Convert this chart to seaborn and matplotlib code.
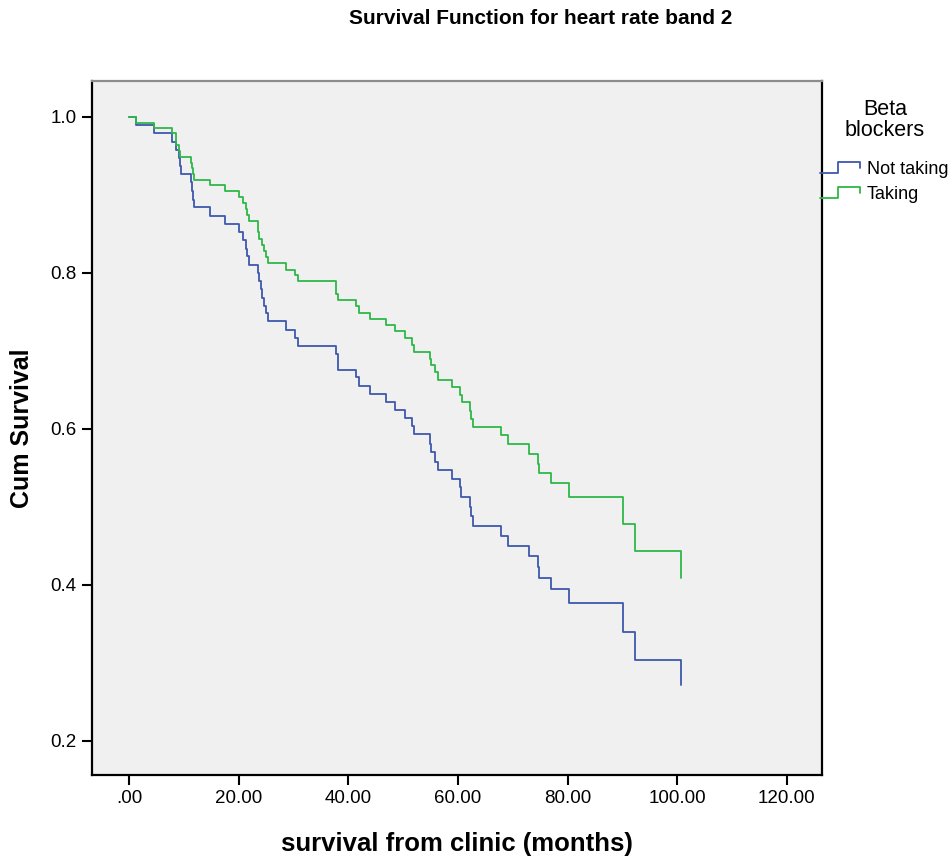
import pandas as pd
import seaborn as sns
import matplotlib.pyplot as plt
from matplotlib.lines import Line2D
from matplotlib.legend_handler import HandlerBase

# Kaplan-Meier step values
taking_t = [0, 1.2, 4.56, 7.8, 8.5, 9.0, 9.2, 11.2, 11.4, 11.6, 11.9, 14.7, 17.5, 19.95,
            20.7, 21.35, 21.5, 21.8, 23.5, 23.7, 24.3, 24.6, 24.9, 25.3, 28.6, 30.3, 30.8,
            37.8, 38.0, 41.3, 42.0, 44.0, 46.9, 48.5, 50.4, 51.5, 52.0, 54.9, 55.1, 55.8,
            56.4, 58.8, 60.4, 60.7, 62.1, 62.4, 62.7, 67.9, 69.1, 72.9, 74.6, 74.8, 77.0,
            80.2, 90.1, 92.3, 100.7]
taking_s = [1.0, 0.992, 0.986, 0.979, 0.964, 0.956, 0.949, 0.941, 0.935, 0.927, 0.919, 0.912,
            0.905, 0.897, 0.889, 0.882, 0.874, 0.867, 0.852, 0.844, 0.836, 0.828, 0.820, 0.812,
            0.804, 0.797, 0.790, 0.773, 0.765, 0.757, 0.749, 0.741, 0.733, 0.725, 0.716, 0.708,
            0.699, 0.689, 0.682, 0.673, 0.663, 0.653, 0.643, 0.634, 0.623, 0.612, 0.602, 0.592,
            0.580, 0.568, 0.555, 0.543, 0.530, 0.513, 0.478, 0.443, 0.409]

not_taking_t = [0, 1.2, 4.56, 7.8, 8.5, 9.0, 9.2, 9.4, 11.2, 11.4, 11.6, 11.9, 14.7, 17.5,
                19.95, 20.7, 21.35, 21.5, 21.8, 23.5, 23.7, 24.0, 24.3, 24.6, 24.9, 25.3, 28.6,
                30.3, 30.8, 37.8, 38.0, 41.3, 42.0, 44.0, 46.9, 48.5, 50.4, 51.5, 52.0, 54.9,
                55.1, 55.8, 56.4, 58.8, 60.3, 60.6, 62.1, 62.4, 62.7, 67.9, 69.1, 72.9, 74.6,
                74.8, 77.0, 80.2, 90.1, 92.3, 100.7]
not_taking_s = [1.0, 0.990, 0.979, 0.968, 0.957, 0.947, 0.937, 0.927, 0.916, 0.905, 0.894,
                0.884, 0.873, 0.863, 0.852, 0.842, 0.831, 0.821, 0.810, 0.800, 0.790, 0.779,
                0.768, 0.758, 0.748, 0.738, 0.727, 0.717, 0.706, 0.696, 0.676, 0.666, 0.655,
                0.644, 0.634, 0.624, 0.614, 0.603, 0.593, 0.581, 0.570, 0.558, 0.547, 0.536,
                0.525, 0.513, 0.500, 0.488, 0.475, 0.463, 0.450, 0.437, 0.423, 0.409, 0.395,
                0.376, 0.340, 0.304, 0.271]

groups = ["Not taking", "Taking"]
colors = {"Not taking": "#3E58AC", "Taking": "#2EB848"}
x_ticks = [0, 20, 40, 60, 80, 100, 120]
x_tick_labels = [".00", "20.00", "40.00", "60.00", "80.00", "100.00", "120.00"]
y_ticks = [0.2, 0.4, 0.6, 0.8, 1.0]
y_tick_labels = ["0.2", "0.4", "0.6", "0.8", "1.0"]


class StepHandler(HandlerBase):
    # legend key drawn as a little step, like the SPSS one
    def create_artists(self, legend, orig_handle, xdescent, ydescent, width, height, fontsize, trans):
        x0 = -xdescent
        xs = [x0, x0 + 0.45 * width, x0 + 0.45 * width, x0 + width, x0 + width]
        lo, hi = -ydescent + 0.05 * height, -ydescent + 0.95 * height
        ys = [lo, lo, hi, hi, hi - 0.45 * height]
        line = Line2D(xs, ys, color=orig_handle.get_color(), lw=1.3, transform=trans)
        return [line]


df = pd.concat([
    pd.DataFrame({"time": not_taking_t, "surv": not_taking_s, "group": "Not taking"}),
    pd.DataFrame({"time": taking_t, "surv": taking_s, "group": "Taking"}),
])

sns.set_style("white")
plt.rcParams["font.family"] = ["Liberation Sans", "DejaVu Sans"]
plt.rcParams["text.color"] = "black"
plt.rcParams["axes.labelcolor"] = "black"
plt.rcParams["xtick.color"] = "black"
plt.rcParams["ytick.color"] = "black"

fig = plt.figure(figsize=(9.53, 8.59), dpi=100)
ax = fig.add_axes([92 / 953, 1 - 775 / 859, (822 - 92) / 953, (775 - 81) / 859])
ax.set_facecolor("#F0F0F0")

sns.lineplot(data=df, x="time", y="surv", hue="group", hue_order=groups, palette=colors,
             estimator=None, drawstyle="steps-post", lw=1.3, legend=False, ax=ax)

ax.set_xlim(-6.8, 126.4)
ax.set_ylim(0.156, 1.046)
ax.set_xticks(x_ticks)
ax.set_xticklabels(x_tick_labels, fontsize=13.5)
ax.set_yticks(y_ticks)
ax.set_yticklabels(y_tick_labels, fontsize=13.5)
ax.tick_params(axis="both", direction="out", length=7, width=1.5, color="black", pad=4,
               bottom=True, left=True)
for side in ["left", "bottom", "right"]:
    ax.spines[side].set_color("black")
    ax.spines[side].set_linewidth(1.6)
ax.spines["top"].set_color("#8C8C8C")
ax.spines["top"].set_linewidth(1.6)

ax.set_xlabel("survival from clinic (months)", fontsize=18.5, fontweight="bold", labelpad=18)
ax.set_ylabel("")
fig.text(22 / 953, 1 - 428 / 859, "Cum Survival", rotation=90, ha="center", va="center",
         fontsize=18, fontweight="bold")
fig.text(541 / 953, 1 - 18 / 859, "Survival Function for heart rate band 2", ha="center",
         va="center", fontsize=15, fontweight="bold")

# legend title as its own text so the gap above the entries matches
fig.text(885 / 953, 1 - 120 / 859, "Beta\nblockers", ha="center", va="center",
         multialignment="center", linespacing=1.0, fontsize=15.5)
handles = [Line2D([], [], color=colors[g]) for g in groups]
leg = ax.legend(handles, groups, loc="upper left", bbox_to_anchor=(820 / 953, 1 - 161 / 859),
                bbox_transform=fig.transFigure, frameon=False, borderpad=0, borderaxespad=0,
                fontsize=13, handlelength=2.2, handletextpad=0.4, labelspacing=0.45,
                handler_map={Line2D: StepHandler()})

plt.savefig("out.png", dpi=100)
